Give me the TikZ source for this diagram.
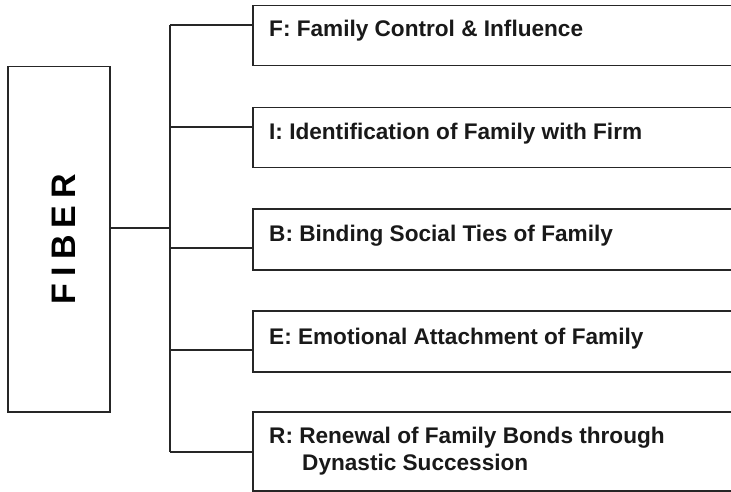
\documentclass[tikz,border=0pt]{standalone}
\usepackage{fontspec}
\setmainfont{Liberation Sans}
\begin{document}
\begin{tikzpicture}[x=1pt,y=-1pt,
  box/.style={draw=black!85, line width=1.5pt, fill=white, inner sep=0pt, anchor=north west},
  lbl/.style={anchor=base west, inner sep=0pt, font=\fontsize{22.6}{27}\selectfont\bfseries, text=black!90},
  conn/.style={draw=black!85, line width=1.5pt}]
\useasboundingbox (0,0) rectangle (731,492);
% FIBER box
\node[box, minimum width=102pt, minimum height=345pt] (fiber) at (7,66) {};
\node[rotate=90, inner sep=0pt, font=\fontsize{34}{34}\selectfont\bfseries] (fibertxt) at (64,239) {F\kern7pt I\kern7pt B\kern7pt E\kern7pt R};
% right boxes
\node[box, minimum width=520pt, minimum height=60pt] (b1) at (252,5) {};
\node[box, minimum width=520pt, minimum height=60pt] (b2) at (252,107) {};
\node[box, minimum width=520pt, minimum height=61pt] (b3) at (252,208) {};
\node[box, minimum width=520pt, minimum height=61pt] (b4) at (252,310) {};
\node[box, minimum width=520pt, minimum height=79pt] (b5) at (252,411) {};
% labels
\node[lbl] (t1) at (269,37) {F: Family Control \& Influence};
\node[lbl] (t2) at (269,140) {I: Identification of Family with Firm};
\node[lbl] (t3) at (269,241) {B: Binding Social Ties of Family};
\node[lbl] (t4) at (269,344) {E: Emotional Attachment of Family};
\node[lbl] (t5) at (269,443) {R: Renewal of Family Bonds through};
\node[lbl] (t5b) at (302,470) {Dynastic Succession};
% connectors
\coordinate (j0) at (170,228);
\coordinate (j1) at (170,25);
\coordinate (j2) at (170,127);
\coordinate (j3) at (170,248);
\coordinate (j4) at (170,350);
\coordinate (j5) at (170,452);
\draw[conn] (fiber.east |- j0) -- (j0);
\draw[conn] (j1) -- (j5);
\draw[conn] (j1) -- (b1.west |- j1);
\draw[conn] (j2) -- (b2.west |- j2);
\draw[conn] (j3) -- (b3.west |- j3);
\draw[conn] (j4) -- (b4.west |- j4);
\draw[conn] (j5) -- (b5.west |- j5);
\end{tikzpicture}
\end{document}
